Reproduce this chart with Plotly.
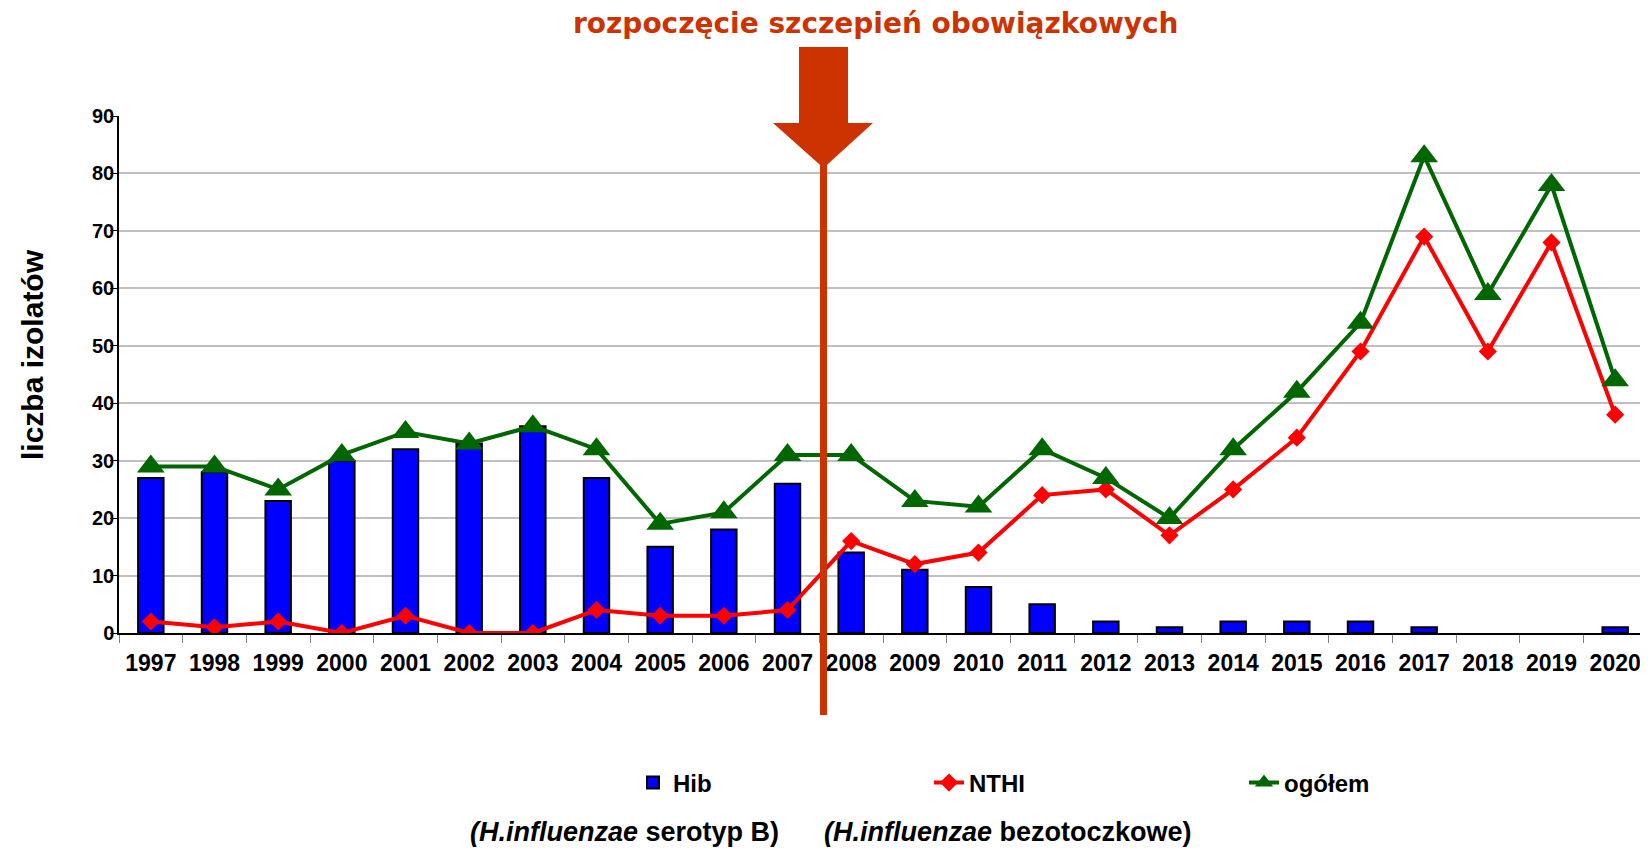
import plotly.graph_objects as go

years = ["1997", "1998", "1999", "2000", "2001", "2002", "2003", "2004", "2005", "2006",
         "2007", "2008", "2009", "2010", "2011", "2012", "2013", "2014", "2015", "2016",
         "2017", "2018", "2019", "2020"]
hib = [27, 28, 23, 30, 32, 33, 36, 27, 15, 18, 26, 14, 11, 8, 5, 2, 1, 2, 2, 2, 1, 0, 0, 1]
nthi = [2, 1, 2, 0, 3, 0, 0, 4, 3, 3, 4, 16, 12, 14, 24, 25, 17, 25, 34, 49, 69, 49, 68, 38]
ogolem = [29, 29, 25, 31, 35, 33, 36, 32, 19, 21, 31, 31, 23, 22, 32, 27, 20, 32, 42, 54, 83, 59, 78, 44]
y_ticks = [0, 10, 20, 30, 40, 50, 60, 70, 80, 90]

# page body has an 8px margin: the figure div starts at (8, 8)
OFF = 8
W, H = 1648 - OFF, 849 - OFF
PLOT_L, PLOT_R, PLOT_T, PLOT_B = 119, 1647, 116, 633   # in page pixels
L, T = PLOT_L - OFF, PLOT_T - OFF
R = W - (PLOT_R - OFF)
B = H - (PLOT_B - OFF)
PW, PH = PLOT_R - PLOT_L, PLOT_B - PLOT_T


def px(x):
    return (x - PLOT_L) / PW


def py(y):
    return (PLOT_B - y) / PH


FONT = "Liberation Sans, Arial, sans-serif"
ORANGE = "#CC3300"

fig = go.Figure()
fig.add_trace(go.Bar(x=years, y=hib, name="Hib", width=0.4, legend="legend",
                     marker=dict(color="#0000FF",
                                 line=dict(color="black", width=[2 if v else 0 for v in hib]))))
fig.add_trace(go.Scatter(x=years, y=nthi, name="NTHI", mode="lines+markers", legend="legend2",
                         line=dict(color="#FF0000", width=4),
                         marker=dict(symbol="diamond", size=14, color="#FF0000")))
fig.add_trace(go.Scatter(x=years, y=ogolem, name="ogółem", mode="lines+markers", legend="legend3",
                         line=dict(color="#006600", width=4),
                         marker=dict(symbol="triangle-up", size=24, color="#006600")))

# arrow and vertical line
xc = 823.5
arrow = (f"M {px(799)} {py(47)} L {px(848)} {py(47)} L {px(848)} {py(123)} "
         f"L {px(873)} {py(123)} L {px(xc)} {py(168)} L {px(773)} {py(123)} "
         f"L {px(799)} {py(123)} Z")
fig.add_shape(type="path", path=arrow, xref="paper", yref="paper",
              fillcolor=ORANGE, line=dict(width=0), layer="above")
fig.add_shape(type="line", xref="paper", yref="paper", x0=px(xc), x1=px(xc),
              y0=py(160), y1=py(715), line=dict(color=ORANGE, width=7), layer="above")

fig.add_annotation(text="<b>rozpoczęcie szczepień obowiązkowych</b>", xref="paper", yref="paper",
                   x=px(876), y=py(23), xanchor="center", yanchor="middle", showarrow=False,
                   font=dict(family="DejaVu Sans, sans-serif", size=28, color=ORANGE))
fig.add_annotation(text="<b>liczba izolatów</b>", xref="paper", yref="paper",
                   x=px(32), y=py(355), xanchor="center", yanchor="middle", showarrow=False,
                   textangle=-90, font=dict(family=FONT, size=30, color="black"))
fig.add_annotation(text="<b><i>(H.influenzae</i> serotyp B)</b>", xref="paper", yref="paper",
                   x=px(624), y=py(832), xanchor="center", yanchor="middle", showarrow=False,
                   font=dict(family=FONT, size=27, color="black"))
fig.add_annotation(text="<b><i>(H.influenzae</i> bezotoczkowe)</b>", xref="paper", yref="paper",
                   x=px(1008), y=py(832), xanchor="center", yanchor="middle", showarrow=False,
                   font=dict(family=FONT, size=27, color="black"))

LEG_FONT = dict(family=FONT, size=24, color="black", weight="bold")


def legend_at(x_text):
    return dict(orientation="h", x=px(x_text - 40), y=py(783), xanchor="left", yanchor="middle",
                font=LEG_FONT, bgcolor="rgba(0,0,0,0)")


fig.update_layout(
    width=W, height=H,
    margin=dict(l=L, r=R, t=T, b=B, pad=0),
    plot_bgcolor="white", paper_bgcolor="white",
    showlegend=True,
    legend=legend_at(673),
    legend2=legend_at(969),
    legend3=legend_at(1284),
    xaxis=dict(type="category", tickson="boundaries", ticks="outside", ticklen=8,
               tickcolor="#808080", tickwidth=1, showline=True, linecolor="black", linewidth=2,
               showgrid=False, range=[-0.5, 23.5], ticklabelstandoff=8,
               tickfont=dict(family=FONT, size=23, color="black", weight="bold")),
    yaxis=dict(range=[0, 90], tickvals=y_ticks, ticks="outside", ticklen=7, tickcolor="black",
               showline=True, linecolor="black", linewidth=1.5, ticklabelstandoff=-8,
               showgrid=True, gridcolor="#C0C0C0", gridwidth=1.5, zeroline=False,
               tickfont=dict(family=FONT, size=20, color="black", weight="bold")),
)

fig.write_html("out.html")
